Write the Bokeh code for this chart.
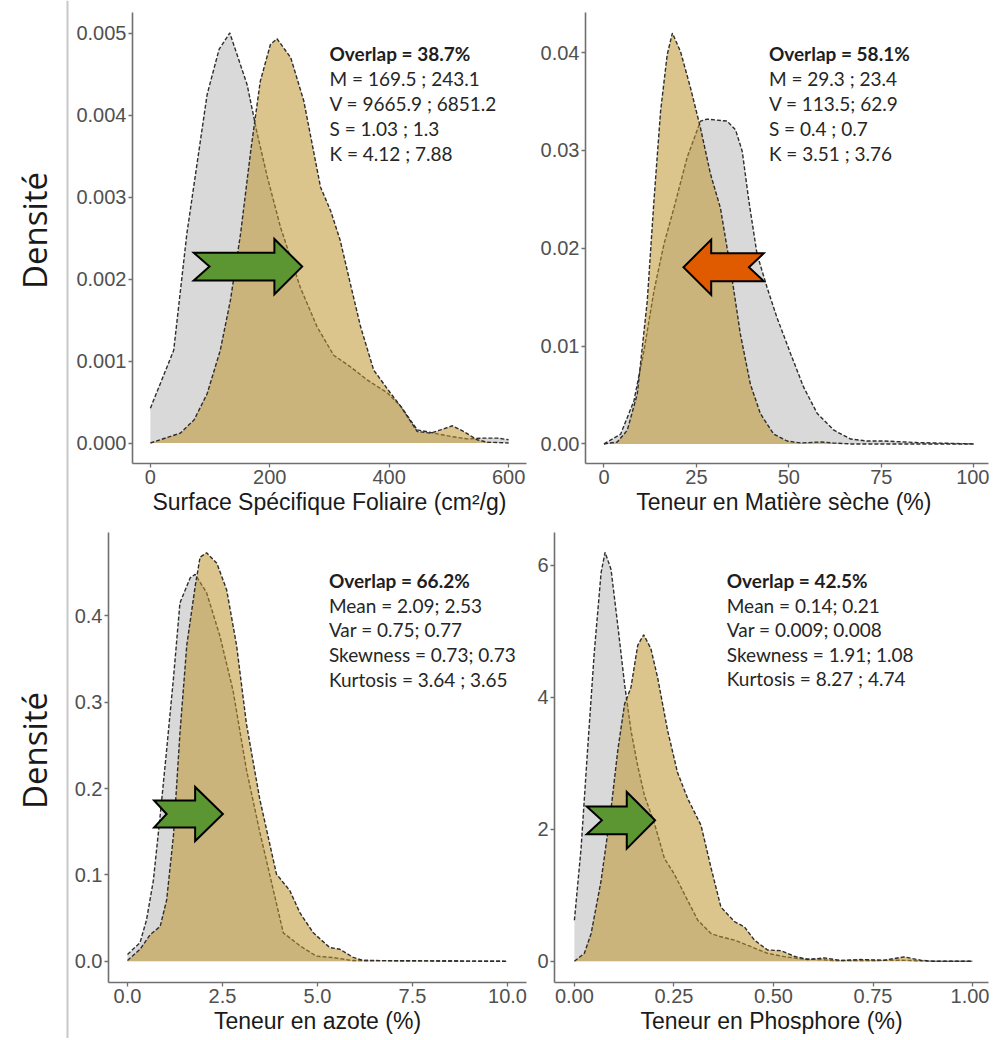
from bokeh.plotting import figure
from bokeh.layouts import row, column
from bokeh.models import Range1d, FixedTicker, Span
from bokeh.core.properties import value
from bokeh.embed import file_html
from bokeh.resources import INLINE

# ---------------- data ----------------
# Panel 1 : Surface Spécifique Foliaire
sla_gray_x = [0, 39, 61, 95, 115, 133, 162, 179, 196, 218, 251, 279, 307, 335, 363, 397, 419, 447, 475, 503, 531, 559, 581, 600]
sla_gray_y = [0.000425, 0.00113, 0.00255, 0.00425, 0.00480, 0.00500, 0.00437, 0.00377, 0.00324, 0.00263, 0.00190, 0.00142,
              0.00107, 0.00093, 0.00077, 0.00061, 0.00045, 0.00016, 0.00012, 0.00008, 0.00005, 0.00006, 0.00006, 0.00004]
sla_tan_x = [0, 50, 73, 95, 117, 134, 151, 168, 184, 201, 212, 235, 257, 285, 302, 318, 335, 352, 374, 402, 419, 447, 469, 486, 506, 525, 547, 564, 600]
sla_tan_y = [0.0, 0.00012, 0.00028, 0.00060, 0.00113, 0.00174, 0.00255, 0.00356, 0.00441, 0.00486, 0.00493, 0.00470, 0.00417,
             0.00312, 0.00283, 0.00247, 0.00194, 0.00142, 0.00089, 0.00061, 0.00045, 0.00014, 0.00012, 0.00016, 0.00021,
             0.00014, 0.00004, 0.00001, 0.0]

# Panel 2 : Teneur en Matière sèche
ldmc_gray_x = [0, 4.5, 8.1, 10.8, 13.5, 16.2, 18.9, 22.5, 26.1, 27.9, 33.3, 35.6, 37.4, 39.2, 41.4, 44.1, 46.8, 50.5, 54.0, 57.7, 62.2, 66.7, 71.0, 75.7, 84.7, 100]
ldmc_gray_y = [0.0, 0.0010, 0.0044, 0.0095, 0.0156, 0.0204, 0.0241, 0.0293, 0.0330, 0.0332, 0.0330, 0.0321, 0.0299, 0.0248,
               0.0194, 0.0160, 0.0129, 0.0092, 0.0058, 0.0031, 0.0014, 0.0005, 0.0003, 0.0003, 0.00014, 0.0]
ldmc_tan_x = [0, 3.6, 6.3, 9.0, 11.7, 13.5, 15.3, 17.1, 18.5, 20.7, 23.4, 26.1, 28.8, 31.5, 34.2, 36.9, 39.6, 42.3, 45.9, 49.5, 53.2, 58.6, 62.0, 66.7, 100]
ldmc_tan_y = [0.0, 0.0002, 0.0014, 0.0051, 0.0146, 0.0248, 0.0340, 0.0398, 0.0420, 0.0401, 0.0364, 0.0323, 0.0276, 0.0241,
              0.0180, 0.0112, 0.0061, 0.0031, 0.0010, 0.0003, 0.0001, 0.0002, 0.0001, 0.0, 0.0]

# Panel 3 : Teneur en azote
n_gray_x = [0, 0.33, 0.5, 0.68, 0.86, 1.03, 1.21, 1.38, 1.65, 1.78, 2.08, 2.43, 2.78, 3.13, 3.48, 3.84, 4.10, 4.54, 4.97, 5.40, 5.90, 10.0]
n_gray_y = [0.008, 0.0216, 0.048, 0.0935, 0.169, 0.245, 0.328, 0.415, 0.444, 0.448, 0.427, 0.377, 0.313, 0.222, 0.150, 0.082,
            0.033, 0.018, 0.006, 0.0045, 0.001, 0.0]
n_tan_x = [0, 0.33, 0.6, 0.86, 1.03, 1.21, 1.38, 1.56, 1.78, 1.91, 2.08, 2.35, 2.61, 2.87, 3.13, 3.48, 3.92, 4.27, 4.54, 4.89, 5.32, 5.59, 5.94, 6.2, 10.0]
n_tan_y = [0.001, 0.014, 0.031, 0.0405, 0.071, 0.146, 0.264, 0.366, 0.434, 0.468, 0.473, 0.461, 0.430, 0.366, 0.275, 0.188,
           0.101, 0.082, 0.056, 0.033, 0.016, 0.014, 0.0045, 0.001, 0.0]

# Panel 4 : Teneur en Phosphore
p_gray_x = [0, 0.0167, 0.033, 0.05, 0.067, 0.077, 0.092, 0.109, 0.126, 0.142, 0.159, 0.176, 0.2, 0.226, 0.251, 0.276, 0.31,
            0.343, 0.368, 0.402, 0.444, 0.485, 0.527, 0.569, 0.62, 0.65, 0.74, 0.82, 0.9, 1.0]
p_gray_y = [0.62, 1.71, 3.2, 4.69, 5.89, 6.2, 5.94, 5.09, 4.2, 3.5, 2.96, 2.51, 2.11, 1.56, 1.32, 1.02, 0.62, 0.42, 0.37, 0.32,
            0.22, 0.12, 0.07, 0.035, 0.025, 0.01, 0.01, 0.015, 0.0, 0.0]
p_tan_x = [0, 0.025, 0.042, 0.067, 0.092, 0.109, 0.126, 0.142, 0.159, 0.174, 0.192, 0.209, 0.234, 0.259, 0.285, 0.318, 0.343,
           0.368, 0.402, 0.427, 0.452, 0.485, 0.519, 0.552, 0.586, 0.628, 0.67, 0.72, 0.778, 0.828, 0.87, 0.9, 1.0]
p_tan_y = [0.0, 0.12, 0.42, 1.22, 2.31, 3.2, 3.9, 4.15, 4.79, 4.95, 4.74, 4.3, 3.5, 2.86, 2.46, 2.06, 1.42, 0.82, 0.6, 0.52,
           0.32, 0.17, 0.16, 0.075, 0.025, 0.05, 0.01, 0.025, 0.015, 0.065, 0.015, 0.0, 0.0]

# tick labels
sla_xticks = [0, 200, 400, 600]
sla_xlabels = ["0", "200", "400", "600"]
sla_yticks = [0.0, 0.001, 0.002, 0.003, 0.004, 0.005]
sla_ylabels = ["0.000", "0.001", "0.002", "0.003", "0.004", "0.005"]
ldmc_xticks = [0, 25, 50, 75, 100]
ldmc_xlabels = ["0", "25", "50", "75", "100"]
ldmc_yticks = [0.0, 0.01, 0.02, 0.03, 0.04]
ldmc_ylabels = ["0.00", "0.01", "0.02", "0.03", "0.04"]
n_xticks = [0.0, 2.5, 5.0, 7.5, 10.0]
n_xlabels = ["0.0", "2.5", "5.0", "7.5", "10.0"]
n_yticks = [0.0, 0.1, 0.2, 0.3, 0.4]
n_ylabels = ["0.0", "0.1", "0.2", "0.3", "0.4"]
p_xticks = [0.0, 0.25, 0.5, 0.75, 1.0]
p_xlabels = ["0.00", "0.25", "0.50", "0.75", "1.00"]
p_yticks = [0, 2, 4, 6]
p_ylabels = ["0", "2", "4", "6"]

# annotation texts
sla_stats = ["Overlap = 38.7%", "M = 169.5 ; 243.1", "V = 9665.9 ; 6851.2", "S = 1.03 ; 1.3", "K = 4.12 ; 7.88"]
ldmc_stats = ["Overlap = 58.1%", "M = 29.3 ; 23.4", "V = 113.5; 62.9", "S = 0.4 ; 0.7", "K = 3.51 ; 3.76"]
n_stats = ["Overlap = 66.2%", "Mean = 2.09; 2.53", "Var = 0.75; 0.77", "Skewness = 0.73; 0.73", "Kurtosis = 3.64 ; 3.65"]
p_stats = ["Overlap = 42.5%", "Mean = 0.14; 0.21", "Var = 0.009; 0.008", "Skewness = 1.91; 1.08", "Kurtosis = 8.27 ; 4.74"]

x_titles = ["Surface Spécifique Foliaire (cm²/g)", "Teneur en Matière sèche  (%)",
            "Teneur en azote (%)", "Teneur en Phosphore (%)"]
y_title = "Densité"

# ---------------- styles ----------------
GRAY_FILL = "#d9d9d9"
TAN_FILL = (192, 148, 47)
TAN_ALPHA = 0.55
OUTLINE = "#2e2e2e"
AXIS_COL = "#707070"
TICK_TXT = "#505050"


def make_panel(width, height, borders, xr, yr, gx, gy, tx, ty, xticks, xlabels, yticks, ylabels,
               title, stats, text_pos, arrow, arrow_color):
    left, right, top, bottom = borders
    p = figure(width=width, height=height, output_backend="svg", toolbar_location=None,
               x_range=Range1d(*xr), y_range=Range1d(*yr),
               min_border_left=left, min_border_right=right, min_border_top=top, min_border_bottom=bottom)
    p.xgrid.visible = False
    p.ygrid.visible = False
    p.outline_line_color = None
    p.background_fill_color = "white"
    p.border_fill_color = "white"

    # densities
    p.varea(x=gx, y1=[0] * len(gx), y2=gy, fill_color=GRAY_FILL, fill_alpha=1.0)
    p.line(gx, gy, line_color=OUTLINE, line_width=1.4, line_dash="4 2")
    p.varea(x=tx, y1=[0] * len(tx), y2=ty, fill_color=TAN_FILL, fill_alpha=TAN_ALPHA)
    p.line(tx, ty, line_color=OUTLINE, line_width=1.4, line_dash="4 2")

    # arrow
    tail, notch, base, tip, yc, sh, hh = arrow
    ax = [tail, base, base, tip, base, base, tail, notch]
    ay = [yc + sh, yc + sh, yc + hh, yc, yc - hh, yc - sh, yc - sh, yc]
    p.patch(ax, ay, fill_color=arrow_color, line_color="black", line_width=2, line_join="miter")

    # stats text
    x0, y0, dy = text_pos
    p.text(x=[x0], y=[y0], text=[stats[0]], text_font=value("Lato"), text_font_size="19px",
           text_font_style="bold", text_color="#1e1e1e", text_baseline="middle", text_align="left")
    p.text(x=[x0] * 4, y=[y0 - dy * (i + 1) for i in range(4)], text=stats[1:], text_font=value("Lato"),
           text_font_size="19px", text_color="#262626", text_baseline="middle", text_align="left")

    # axes
    for ax_ in (p.xaxis[0], p.yaxis[0]):
        ax_.axis_line_color = AXIS_COL
        ax_.axis_line_width = 1.6
        ax_.major_tick_line_color = AXIS_COL
        ax_.major_tick_line_width = 1.3
        ax_.major_tick_in = 0
        ax_.major_tick_out = 4
        ax_.minor_tick_line_color = None
        ax_.major_label_text_font = "Liberation Sans"
        ax_.major_label_text_font_size = "20px"
        ax_.major_label_text_color = TICK_TXT
    p.xaxis.ticker = FixedTicker(ticks=xticks)
    p.xaxis.major_label_overrides = {t: l for t, l in zip(xticks, xlabels)}
    p.yaxis.ticker = FixedTicker(ticks=yticks)
    p.yaxis.major_label_overrides = {t: l for t, l in zip(yticks, ylabels)}
    p.xaxis.major_label_standoff = 2
    p.yaxis.major_label_standoff = 2
    p.xaxis.axis_label = title
    p.xaxis.axis_label_text_font = "Liberation Sans"
    p.xaxis.axis_label_text_font_size = "23px"
    p.xaxis.axis_label_text_font_style = "normal"
    p.xaxis.axis_label_text_color = "#1a1a1a"
    p.xaxis.axis_label_standoff = 2
    return p


GREEN = "#5b9632"
ORANGE = "#e05a00"

TOP_H = 519
BOT_H = 519

p1 = make_panel(457, TOP_H, (62, 1, 12, 56), (-30, 630), (-0.00025, 0.00525),
                sla_gray_x, sla_gray_y, sla_tan_x, sla_tan_y,
                sla_xticks, sla_xlabels, sla_yticks, sla_ylabels, x_titles[0], sla_stats,
                (300, 0.00475, 0.000304),
                (72.6, 99, 207.7, 254.2, 0.002151, 0.000169, 0.000337), GREEN)
p2 = make_panel(462, TOP_H, (58, 1, 12, 56), (-5, 104), (-0.0020, 0.0441),
                ldmc_gray_x, ldmc_gray_y, ldmc_tan_x, ldmc_tan_y,
                ldmc_xticks, ldmc_xlabels, ldmc_yticks, ldmc_ylabels, x_titles[1], ldmc_stats,
                (44.6, 0.03994, 0.002554),
                (43.2, 39.2, 29.0, 21.5, 0.01806, 0.00142, 0.00283), ORANGE)
p3 = make_panel(457, BOT_H, (38, 1, 13, 56), (-0.5, 10.5), (-0.0245, 0.4965),
                n_gray_x, n_gray_y, n_tan_x, n_tan_y,
                n_xticks, n_xlabels, n_yticks, n_ylabels, x_titles[2], n_stats,
                (5.3, 0.4406, 0.02844),
                (0.70, 1.03, 1.78, 2.51, 0.1706, 0.0156, 0.0313), GREEN)
p4 = make_panel(462, BOT_H, (27, 1, 13, 56), (-0.05, 1.04), (-0.323, 6.50),
                p_gray_x, p_gray_y, p_tan_x, p_tan_y,
                p_xticks, p_xlabels, p_yticks, p_ylabels, x_titles[3], p_stats,
                (0.3826, 5.772, 0.3726),
                (0.031, 0.069, 0.1315, 0.2026, 2.136, 0.211, 0.429), GREEN)

# left strip with the shared y titles and separator line
strip = figure(width=70, height=TOP_H + BOT_H, output_backend="svg", toolbar_location=None,
               x_range=Range1d(0, 70), y_range=Range1d(TOP_H + BOT_H, 0),
               x_axis_location=None, y_axis_location=None,
               min_border_left=0, min_border_right=0, min_border_top=0, min_border_bottom=0)
strip.xgrid.visible = False
strip.ygrid.visible = False
strip.outline_line_color = None
strip.text(x=[34, 34], y=[230, 750], text=[y_title, y_title], angle=1.5708,
           text_font=value("Open Sans"), text_font_size="33px", text_color="#1a1a1a",
           text_align="center", text_baseline="middle")
strip.add_layout(Span(location=67, dimension="height", line_color="#c8c8c8", line_width=2))

layout = row(strip, column(row(p1, p2), row(p3, p4)))

open("out.html", "w").write(file_html(layout, INLINE))
